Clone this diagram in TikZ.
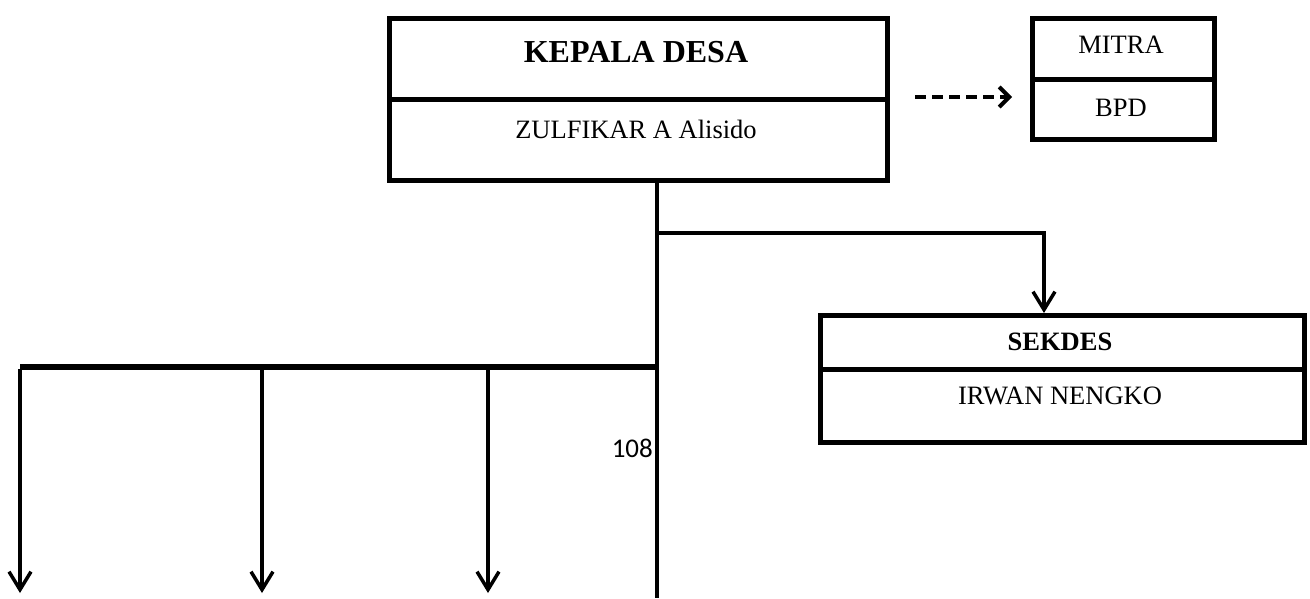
\documentclass[tikz,border=0pt]{standalone}
\usepackage{fontspec}
\setmainfont{Liberation Serif}
\newfontfamily\calfont{Carlito}
\usetikzlibrary{arrows.meta}
\begin{document}
\begin{tikzpicture}[x=1pt,y=-1pt,
  cell/.style={draw,line width=4.5pt,rectangle,inner sep=0pt,anchor=north west},
  txt/.style={inner sep=0pt,font=\fontsize{26.5}{30}\selectfont},
  btxt/.style={inner sep=0pt,font=\fontsize{32}{34}\selectfont\bfseries},
  stxt/.style={inner sep=0pt,font=\fontsize{26.5}{30}\selectfont\bfseries},
  wire/.style={line width=3.5pt},
  downarrow/.style={line width=3.5pt,-{Straight Barb[length=18pt,width=22pt,line width=3.5pt]}},
  dasharrow/.style={line width=4pt,dash pattern=on 11pt off 6pt,-{Straight Barb[length=10pt,width=20pt,line width=4pt]}}
]
\useasboundingbox (0,0) rectangle (1310,598);

% KEPALA DESA
\node[cell,minimum width=498pt,minimum height=81pt] (kd1) at (387,16) {};
\node[cell,minimum width=498pt,minimum height=81pt] (kd2) at (387,97) {};
\node[btxt] (kdt) at (636,52) {KEPALA DESA};
\node[txt] (kdn) at (636,129) {ZULFIKAR A Alisido};

% MITRA / BPD
\node[cell,minimum width=182pt,minimum height=61pt] (mi1) at (1030,16) {};
\node[cell,minimum width=182pt,minimum height=60pt] (mi2) at (1030,77) {};
\node[txt] (mit) at (1121,45) {MITRA};
\node[txt] (bpd) at (1121,108) {BPD};

% SEKDES
\node[cell,minimum width=484pt,minimum height=54pt] (sk1) at (818,313) {};
\node[cell,minimum width=484pt,minimum height=73pt] (sk2) at (818,367) {};
\node[stxt] (skt) at (1060,342) {SEKDES};
\node[txt] (skn) at (1060,396) {IRWAN NENGKO};

% page number
\node[inner sep=0pt,anchor=east,font=\calfont\fontsize{27}{30}\selectfont] (pg) at (653,448) {108};

% coordinates
\coordinate (j1) at (657,233);
\coordinate (skin) at (1044,313);
\coordinate (b0) at (657,367);
\coordinate (bot) at (657,598);
\coordinate (l1) at (20,367);
\coordinate (l2) at (262,367);
\coordinate (l3) at (488,367);
\coordinate (e1) at (20,593);
\coordinate (e2) at (262,593);
\coordinate (e3) at (488,593);
\coordinate (ds) at (915,97);
\coordinate (de) at (1012,97);

% connectors
\draw[line width=4.5pt] (j1 |- kd2.south) -- (bot);
\draw[wire,-{Straight Barb[length=18pt,width=22pt,line width=3.5pt]}] (j1) -| (skin);
\draw[line width=5.5pt] (b0) -- (l1);
\draw[downarrow] ([yshift=-2pt]l1) -- (e1);
\draw[downarrow] (l2) -- (e2);
\draw[downarrow] (l3) -- (e3);
\draw[dasharrow] (ds) -- (de);
\end{tikzpicture}
\end{document}
